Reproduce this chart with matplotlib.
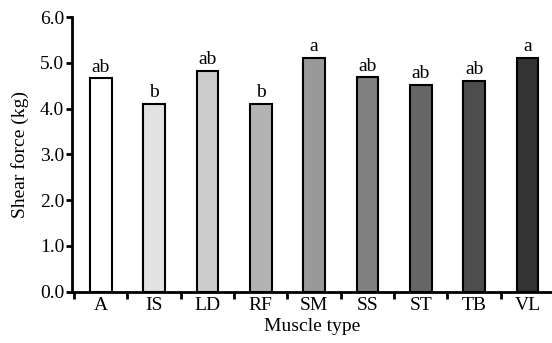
import matplotlib
matplotlib.use("Agg")
import matplotlib.pyplot as plt
import numpy as np

categories = ["A", "IS", "LD", "RF", "SM", "SS", "ST", "TB", "VL"]
values = [4.66, 4.11, 4.83, 4.10, 5.10, 4.68, 4.52, 4.61, 5.10]
letters = ["ab", "b", "ab", "b", "a", "ab", "ab", "ab", "a"]
colors = ["#ffffff", "#e2e2e2", "#cccccc", "#b3b3b3", "#999999",
          "#808080", "#666666", "#4d4d4d", "#333333"]
yticks = [0.0, 1.0, 2.0, 3.0, 4.0, 5.0, 6.0]

plt.rcParams['font.family'] = ['Liberation Serif', 'DejaVu Serif']
FS = 14

fig = plt.figure(figsize=(5.52, 3.43), dpi=100)
ax = fig.add_axes([72/552, 51.3/343, 480/552, (326-51.3)/343])

x = np.arange(len(categories))
bars = ax.bar(x, values, width=0.41, color=colors, edgecolor="black", linewidth=1.5, zorder=3)
for xi, v, lab in zip(x, values, letters):
    ax.annotate(lab, (xi, v), xytext=(0, 2), textcoords="offset points",
                ha="center", va="bottom", fontsize=FS)

ax.set_xlim(-0.54, 8.46)
ax.set_ylim(0, 6)
ax.set_yticks(yticks)
ax.set_yticklabels([f"{t:.1f}" for t in yticks], fontsize=FS)
ax.set_xticks(np.arange(len(categories)) - 0.5)
ax.set_xticklabels([])
ax.set_xticks(x, minor=True)
ax.set_xticklabels(categories, minor=True, fontsize=FS)
ax.tick_params(axis="x", which="minor", length=0, pad=4)
ax.tick_params(axis="x", which="major", length=5, width=2, direction="out")
ax.tick_params(axis="y", length=4.5, width=2, direction="out", pad=1)

for s in ["top", "right"]:
    ax.spines[s].set_visible(False)
for s in ["left", "bottom"]:
    ax.spines[s].set_linewidth(2)

ax.set_ylabel("Shear force (kg)", fontsize=FS, labelpad=8)
ax.set_xlabel("Muscle type", fontsize=FS, labelpad=3)

fig.savefig("out.png", dpi=100)
